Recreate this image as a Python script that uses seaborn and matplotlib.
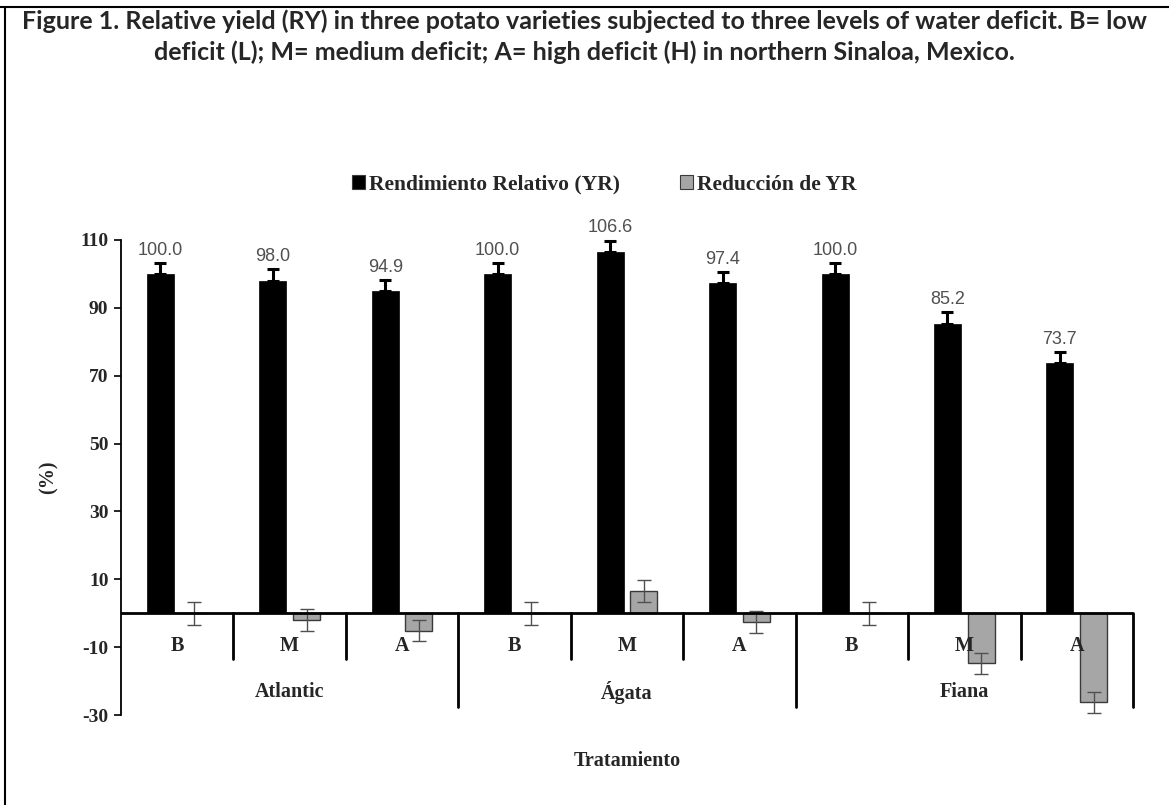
import matplotlib
matplotlib.use("Agg")
import matplotlib.pyplot as plt
from matplotlib.lines import Line2D
import seaborn as sns
import pandas as pd
import numpy as np

# ---- data ----
varieties = ["Atlantic", "Ágata", "Fiana"]
levels = ["B", "M", "A"]
ry_values = [100.0, 98.0, 94.9, 100.0, 106.6, 97.4, 100.0, 85.2, 73.7]
ry_errors = [3.3, 3.4, 3.3, 3.3, 3.2, 3.2, 3.3, 3.5, 3.3]
red_values = [0.0, -2.0, -5.1, 0.0, 6.6, -2.6, 0.0, -14.8, -26.3]
red_errors = [3.4, 3.3, 3.2, 3.4, 3.2, 3.2, 3.4, 3.1, 3.1]
series = ["Rendimiento Relativo (YR)", "Reducción de YR"]
y_ticks = [-30, -10, 10, 30, 50, 70, 90, 110]

treat = [f"{v}-{l}" for v in varieties for l in levels]
df = pd.DataFrame({
    "trat": treat * 2,
    "serie": [series[0]] * 9 + [series[1]] * 9,
    "valor": ry_values + red_values,
})

sns.set_theme(style="white")
serif = ["Liberation Serif", "DejaVu Serif"]
plt.rcParams["font.family"] = serif
plt.rcParams["axes.unicode_minus"] = False

fig = plt.figure(figsize=(11.69, 8.05), dpi=100)
ax = fig.add_axes([0.1035, 0.1118, 0.8657, 0.5901])

palette = {series[0]: "#000000", series[1]: "#a6a6a6"}
sns.barplot(data=df, x="trat", y="valor", hue="serie", order=treat,
            hue_order=series, palette=palette, saturation=1,
            width=0.6, gap=0.2, errorbar=None, ax=ax)

black_bars = ax.containers[0]
gray_bars = ax.containers[1]
for p in gray_bars:
    p.set_edgecolor("#3a3a3a")
    p.set_linewidth(1.0)
for p in black_bars:
    p.set_edgecolor("#000000")
    p.set_linewidth(0.5)

bx = [p.get_x() + p.get_width() / 2 for p in black_bars]
gx = [p.get_x() + p.get_width() / 2 for p in gray_bars]

ax.errorbar(bx, ry_values, yerr=[np.zeros(9), ry_errors], fmt="none",
            ecolor="black", elinewidth=2.2, capsize=4, capthick=2.2,
            clip_on=False, zorder=4)
ax.errorbar(gx, red_values, yerr=red_errors, fmt="none",
            ecolor="#505050", elinewidth=1.0, capsize=5, capthick=1.0,
            clip_on=False, zorder=4)

for x, v, e in zip(bx, ry_values, ry_errors):
    ax.annotate(f"{v:.1f}", (x, v + e), xytext=(0, 3), textcoords="offset points",
                ha="center", va="bottom", fontsize=13, color="#505050",
                family=["Liberation Sans", "DejaVu Sans"])

ax.set_xlim(-0.5, 8.5)
ax.set_ylim(-30, 110)
ax.set_yticks(y_ticks)
ax.tick_params(axis="y", direction="out", length=5, width=1.2, left=True,
               labelsize=14, pad=4, color="black")
for lab in ax.get_yticklabels():
    lab.set_fontweight("bold")
ax.set_xticks([])
ax.set_xlabel("Tratamiento", fontsize=14.5, fontweight="bold", labelpad=26)
ax.set_ylabel("(%)", fontsize=14.5, fontweight="bold", labelpad=16)

for s in ["top", "right", "bottom"]:
    ax.spines[s].set_visible(False)
ax.spines["left"].set_color("black")
ax.spines["left"].set_linewidth(1.3)

ax.axhline(0, color="black", lw=2, zorder=5)

# category labels and separators
for i, t in enumerate(treat):
    ax.text(i, -9.7, t.split("-")[1], ha="center", va="center",
            fontsize=14.5, fontweight="bold")
for j, v in enumerate(varieties):
    ax.text(j * 3 + 1, -23.3, v, ha="center", va="center",
            fontsize=14.5, fontweight="bold")
for i in range(1, 10):
    bottom = -27.7 if i % 3 == 0 else -13.6
    ax.plot([i - 0.5, i - 0.5], [0, bottom], color="black", lw=2,
            clip_on=False, zorder=5)

sns.move_legend(ax, "upper center", bbox_to_anchor=(0.517, 0.807),
                bbox_transform=fig.transFigure, ncol=2, frameon=False,
                title=None, fontsize=15.5, handlelength=0.6, handleheight=0.6,
                handletextpad=0.2, columnspacing=2.8)
leg = ax.get_legend()
for t in leg.get_texts():
    t.set_fontweight("bold")
for h in leg.legend_handles:
    h.set_edgecolor("#3a3a3a")
    h.set_linewidth(0.8)

fig.text(0.5, 0.988,
         "Figure 1. Relative yield (RY) in three potato varieties subjected to three levels of water deficit. B= low\n"
         "deficit (L); M= medium deficit; A= high deficit (H) in northern Sinaloa, Mexico.",
         ha="center", va="top", fontsize=18, fontweight="bold",
         family=["Lato", "DejaVu Sans"], linespacing=1.35)

fig.add_artist(Line2D([0, 1], [0.9913, 0.9913], transform=fig.transFigure,
                      color="black", lw=1.5))
fig.add_artist(Line2D([0.0045, 0.0045], [0, 0.9913], transform=fig.transFigure,
                      color="black", lw=1.5))

fig.savefig("out.png", dpi=100, facecolor="white")
